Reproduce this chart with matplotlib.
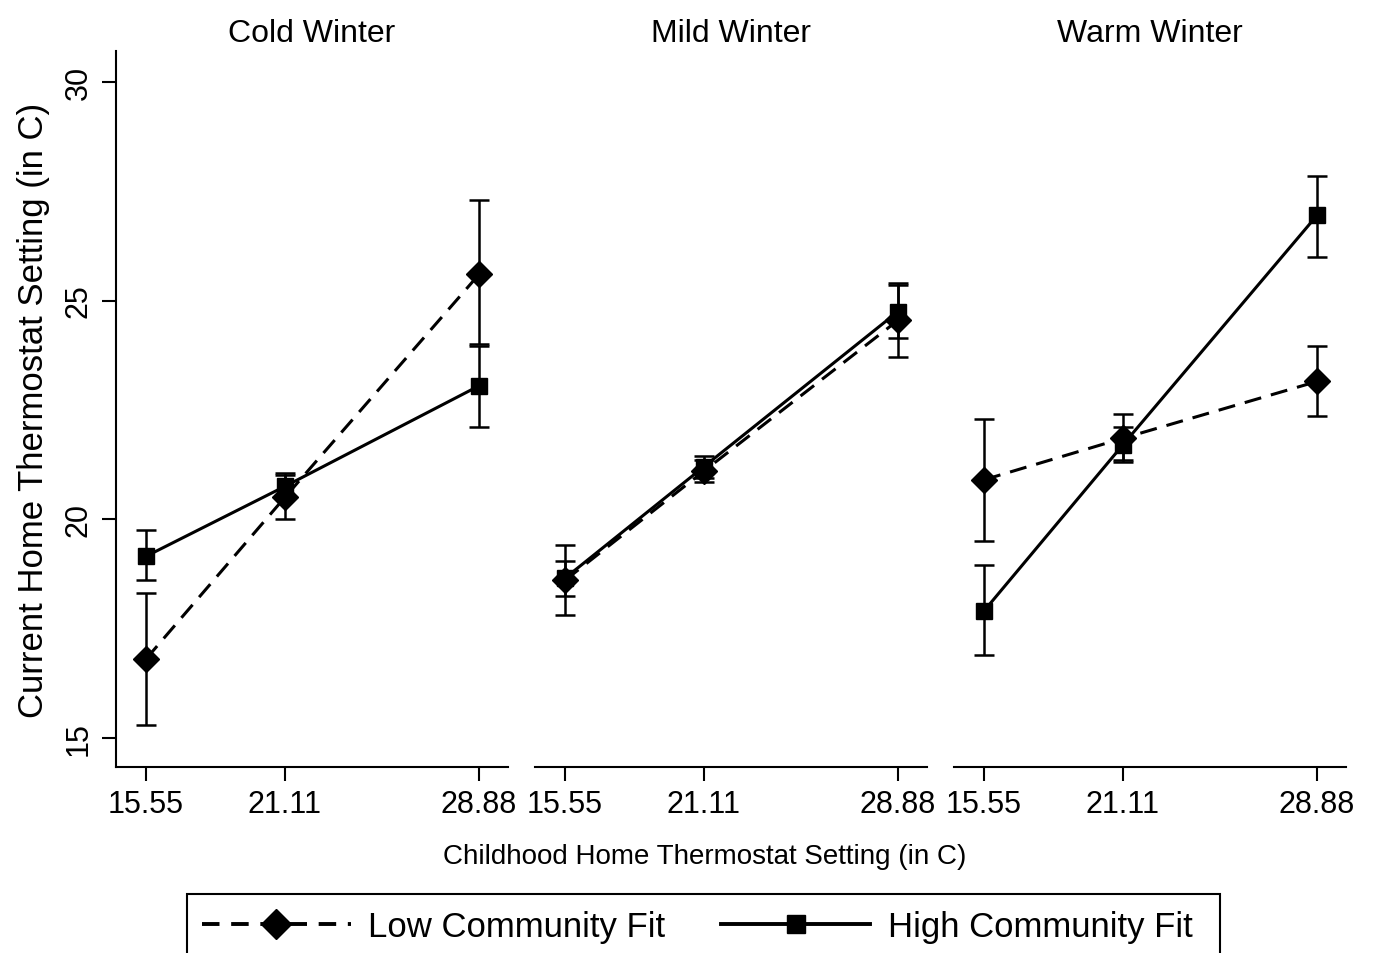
import numpy as np
import matplotlib.pyplot as plt
from matplotlib.lines import Line2D
from matplotlib.patches import Rectangle

plt.rcParams['font.family'] = ['Liberation Sans', 'DejaVu Sans']

# childhood thermostat setting (x) and panel names
x = [15.55, 21.11, 28.88]
panels = ['Cold Winter', 'Mild Winter', 'Warm Winter']

# means and CI bounds, per panel
low_mean = [[16.8, 20.5, 25.6], [18.6, 21.1, 24.55], [20.9, 21.85, 23.15]]
low_lo = [[15.3, 20.0, 24.0], [17.8, 20.85, 23.7], [19.5, 21.35, 22.35]]
low_hi = [[18.3, 21.0, 27.3], [19.4, 21.35, 25.4], [22.3, 22.4, 23.95]]

high_mean = [[19.15, 20.75, 23.05], [18.65, 21.2, 24.75], [17.9, 21.7, 26.95]]
high_lo = [[18.6, 20.5, 22.1], [18.25, 20.95, 24.15], [16.9, 21.3, 26.0]]
high_hi = [[19.75, 21.05, 23.95], [19.05, 21.45, 25.35], [18.95, 22.1, 27.85]]

fig = plt.figure(figsize=(13.73, 9.54), dpi=100)

lefts = [116, 535, 954]
W, H = 1373, 954
lw = 2.2
for i, name in enumerate(panels):
    ax = fig.add_axes([lefts[i] / W, 1 - 768 / H, 392 / W, (768 - 52) / H])
    m = np.array(low_mean[i])
    ax.errorbar(x, m, yerr=[m - np.array(low_lo[i]), np.array(low_hi[i]) - m],
                color='black', lw=lw, ls=(0, (5.6, 3.3)), marker='D', ms=13,
                capsize=7, capthick=lw - 0.4, elinewidth=lw - 0.4)
    m = np.array(high_mean[i])
    ax.errorbar(x, m, yerr=[m - np.array(high_lo[i]), np.array(high_hi[i]) - m],
                color='black', lw=lw, ls='-', marker='s', ms=12,
                capsize=7, capthick=lw - 0.4, elinewidth=lw - 0.4)
    ax.set_xlim(14.35, 30.04)
    ax.set_ylim(14.33, 30.71)
    ax.set_xticks(x)
    ax.set_xticklabels(['15.55', '21.11', '28.88'])
    ax.set_title(name, fontsize=23, pad=7)
    for s in ['top', 'right']:
        ax.spines[s].set_visible(False)
    ax.spines['bottom'].set_linewidth(1.5)
    ax.tick_params(axis='x', length=10, width=1.5, labelsize=22, pad=6)
    if i == 0:
        ax.spines['left'].set_linewidth(1.5)
        ax.set_yticks([15, 20, 25, 30])
        ax.tick_params(axis='y', length=10, width=1.5, labelsize=22, pad=6)
        for t in ax.get_yticklabels():
            t.set_rotation(90)
            t.set_va('center')
        ax.set_ylabel('Current Home Thermostat Setting (in C)', fontsize=25, labelpad=10)
    else:
        ax.spines['left'].set_visible(False)
        ax.set_yticks([])

fig.text(705 / W, 1 - 857 / H, 'Childhood Home Thermostat Setting (in C)',
         fontsize=20, ha='center', va='center')

# legend box runs off the bottom edge, as in the original
fig.patches.append(Rectangle((187 / W, -0.02), (1220 - 187) / W, 0.02 + 1 - 895 / H,
                             transform=fig.transFigure, fill=False,
                             edgecolor='black', lw=1.5))
handles = [Line2D([], [], color='black', lw=lw + 0.6, ls=(0, (4.5, 3)), marker='D', ms=15),
           Line2D([], [], color='black', lw=lw + 0.6, ls='-', marker='s', ms=13)]
fig.legend(handles, ['Low Community Fit', 'High Community Fit'],
           loc='center', bbox_to_anchor=(697 / W, 1 - 928 / H),
           ncol=2, fontsize=25, frameon=False,
           handlelength=4.3, columnspacing=1.6, handletextpad=0.5)

plt.savefig('out.png', dpi=100)
